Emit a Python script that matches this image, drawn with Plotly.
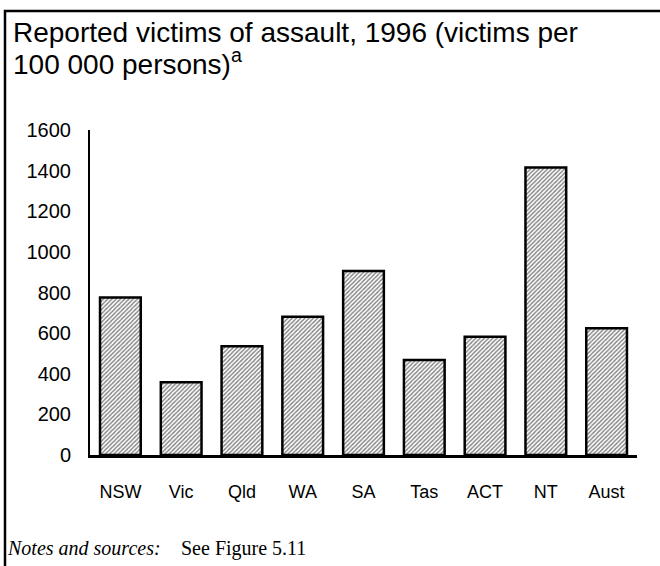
import plotly.graph_objects as go

categories = ["NSW", "Vic", "Qld", "WA", "SA", "Tas", "ACT", "NT", "Aust"]
victims = [775, 358, 535, 681, 906, 468, 582, 1415, 624]
y_ticks = [0, 200, 400, 600, 800, 1000, 1200, 1400, 1600]

W, H = 660, 566
L, R, T, B = 90, 23, 130, 111
pw, ph = W - L - R, H - T - B

def px_x(p):
    return (p - L) / pw

def px_y(p):
    return (H - B - p) / ph

fig = go.Figure(go.Bar(
    x=categories, y=victims,
    marker=dict(color="white",
                line=dict(color="black", width=2.5),
                pattern=dict(shape="/", fgcolor="black", bgcolor="white", size=3, solidity=0.45)),
    width=0.67,
))

fig.update_layout(
    width=W, height=H,
    margin=dict(l=L, r=R, t=T, b=B),
    plot_bgcolor="white", paper_bgcolor="white",
    showlegend=False,
    font=dict(family="Liberation Sans, Arial", color="black", size=18),
    xaxis=dict(showline=True, linecolor="black", linewidth=2.5, ticks="",
               showgrid=False, ticklabelstandoff=19, tickfont=dict(size=18)),
    yaxis=dict(range=[0, 1600], tickvals=y_ticks, showline=True, linecolor="black",
               linewidth=2, ticks="", showgrid=False, zeroline=False,
               ticklabelstandoff=13, tickfont=dict(size=20)),
)

title_font = dict(family="Liberation Sans, Arial", size=28, color="black")
fig.add_annotation(xref="paper", yref="paper", x=px_x(11), y=px_y(33), xanchor="left", yanchor="middle",
                   text="Reported victims of assault, 1996 (victims per",
                   align="left", showarrow=False, font=title_font)
fig.add_annotation(xref="paper", yref="paper", x=px_x(11), y=px_y(62), xanchor="left", yanchor="middle",
                   text="100 000 persons)<sup>a</sup>",
                   align="left", showarrow=False, font=title_font)

fig.add_annotation(xref="paper", yref="paper", x=px_x(5), y=px_y(548), xanchor="left", yanchor="middle",
                   text="<i>Notes and sources:</i>", showarrow=False,
                   font=dict(family="Liberation Serif, Times New Roman", size=20, color="black"))
fig.add_annotation(xref="paper", yref="paper", x=px_x(179), y=px_y(548), xanchor="left", yanchor="middle",
                   text="See Figure 5.11", showarrow=False,
                   font=dict(family="Liberation Serif, Times New Roman", size=20, color="black"))

x_left, y_top = px_x(5), px_y(11)
y_bot, x_right = px_y(580), px_x(680)
fig.add_shape(type="path", xref="paper", yref="paper",
              path=f"M {x_left},{y_bot} L {x_left},{y_top} L {x_right},{y_top}",
              line=dict(color="black", width=2.5), layer="above")

fig.write_html("out.html", config={"displayModeBar": False},
               post_script="document.body.style.margin='0';")
